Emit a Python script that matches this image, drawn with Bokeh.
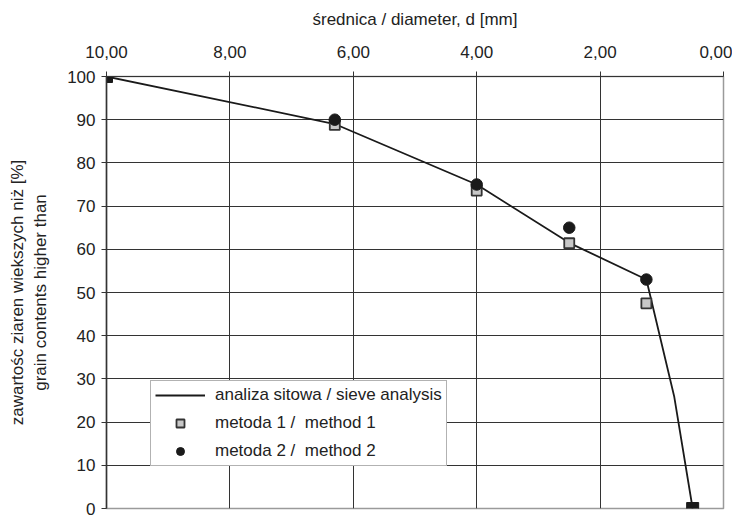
from bokeh.plotting import figure
from bokeh.models import (Range1d, LinearAxis, FixedTicker, CustomJSTickFormatter,
                          Legend, LegendItem)
from bokeh.embed import file_html
from bokeh.resources import INLINE

# ---- data ----
sieve_d = [10.0, 6.3, 4.0, 2.5, 1.25, 0.8, 0.5]
sieve_pass = [100.0, 89.0, 75.0, 61.5, 53.0, 26.0, 0.0]
m1_d = [6.3, 4.0, 2.5, 1.25]
m1_val = [88.8, 73.6, 61.4, 47.5]
m2_d = [6.3, 4.0, 2.5, 1.25]
m2_val = [90.0, 75.0, 65.0, 53.0]
x_ticks = [0, 2, 4, 6, 8, 10]
y_ticks = [0, 10, 20, 30, 40, 50, 60, 70, 80, 90, 100]

x_title = "średnica / diameter, d [mm]"
y_title = "zawartośc ziaren wiekszych niż [%]\ngrain contents higher than"
lbl_line = "analiza sitowa / sieve analysis"
lbl_m1 = "metoda 1 /  method 1"
lbl_m2 = "metoda 2 /  method 2"

FONT = "Liberation Sans"
FS = "17px"
DARK = "#333333"
TXT = "#222222"

p = figure(width=732, height=518, output_backend="svg", toolbar_location=None,
           x_range=Range1d(10, 0), y_range=Range1d(0, 100),
           x_axis_location=None, y_axis_location=None,
           min_border_left=106, min_border_right=9, min_border_top=76,
           min_border_bottom=10)
p.outline_line_color = "#9a9a9a"
p.outline_line_width = 1.5
p.background_fill_color = "white"
p.border_fill_color = "white"

# top axis
xa = LinearAxis(ticker=FixedTicker(ticks=x_ticks),
                formatter=CustomJSTickFormatter(code="return tick.toFixed(2).replace('.', ',');"),
                axis_label=x_title)
xa.axis_line_color = DARK
xa.axis_line_width = 1.2
xa.major_tick_line_color = DARK
xa.major_tick_out = 5
xa.major_tick_in = 0
xa.minor_tick_line_color = None
xa.major_label_text_font = FONT
xa.major_label_text_font_size = FS
xa.major_label_text_color = TXT
xa.major_label_standoff = 14
xa.axis_label_text_font = FONT
xa.axis_label_text_font_size = FS
xa.axis_label_text_font_style = "normal"
xa.axis_label_text_color = TXT
xa.axis_label_standoff = 14
p.add_layout(xa, "above")

# left axis
ya = LinearAxis(ticker=FixedTicker(ticks=y_ticks), axis_label=y_title)
ya.axis_line_color = DARK
ya.axis_line_width = 1.5
ya.major_tick_line_color = DARK
ya.major_tick_out = 5
ya.major_tick_in = 0
ya.minor_tick_line_color = None
ya.major_label_text_font = FONT
ya.major_label_text_font_size = FS
ya.major_label_text_color = TXT
ya.major_label_standoff = 6
ya.axis_label_text_font = FONT
ya.axis_label_text_font_size = FS
ya.axis_label_text_font_style = "normal"
ya.axis_label_text_color = TXT
ya.axis_label_standoff = 14
p.add_layout(ya, "left")

p.xgrid.ticker = FixedTicker(ticks=[2, 4, 6, 8])
p.ygrid.ticker = FixedTicker(ticks=y_ticks[1:-1])
p.xgrid.grid_line_color = DARK
p.ygrid.grid_line_color = DARK
p.xgrid.grid_line_width = 1
p.ygrid.grid_line_width = 1

# series
r_line = p.line(sieve_d, sieve_pass, line_color="#1a1a1a", line_width=1.8)
p.scatter([sieve_d[0], sieve_d[-1]], [sieve_pass[0], sieve_pass[-1]], marker="square",
          size=12, fill_color="#1a1a1a", line_color="#1a1a1a")
r_m1 = p.scatter(m1_d, m1_val, marker="square", size=10, fill_color="#c8c8c8",
                 line_color="#333333", line_width=1.8)
r_m2 = p.scatter(m2_d, m2_val, marker="circle", size=11.5, fill_color="#1a1a1a",
                 line_color="#1a1a1a")

legend = Legend(items=[LegendItem(label=lbl_line, renderers=[r_line]),
                       LegendItem(label=lbl_m1, renderers=[r_m1]),
                       LegendItem(label=lbl_m2, renderers=[r_m2])],
                location=(44, 42))
legend.padding = 4
legend.margin = 0
legend.spacing = 8
legend.glyph_width = 50
legend.glyph_height = 20
legend.label_height = 20
legend.label_standoff = 10
legend.label_text_font = FONT
legend.label_text_font_size = FS
legend.label_text_color = TXT
legend.border_line_color = "#666666"
legend.border_line_width = 1.5
legend.background_fill_color = "white"
legend.background_fill_alpha = 1.0
p.add_layout(legend, "center")

open("out.html", "w").write(file_html(p, INLINE))
